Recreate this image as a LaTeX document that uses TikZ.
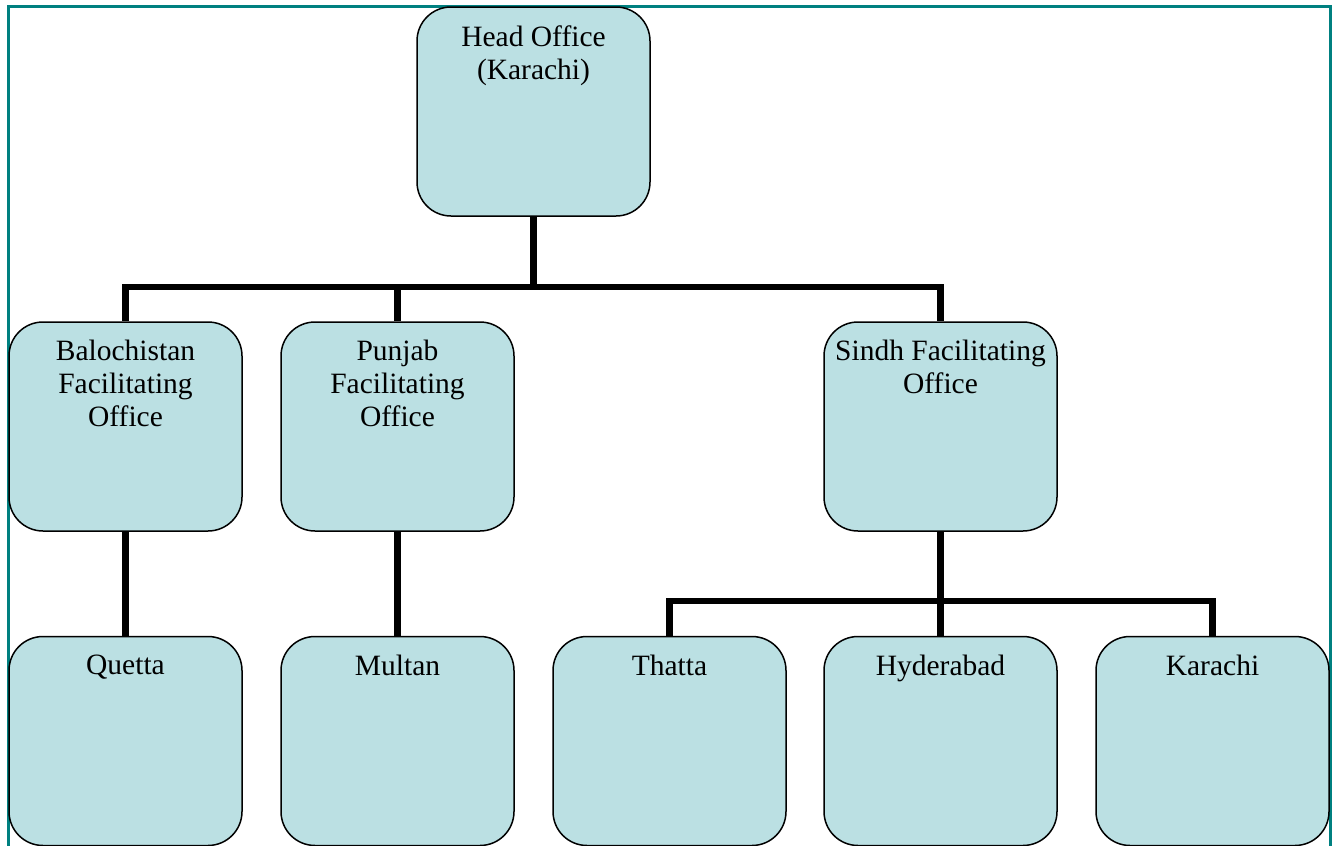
\documentclass[tikz,border=0pt]{standalone}
\usepackage{fontspec}
\setmainfont{Liberation Serif}
\definecolor{boxfill}{RGB}{187,224,227}
\definecolor{frameteal}{RGB}{0,128,128}
\begin{document}
\begin{tikzpicture}[x=1pt,y=-1pt,
  box/.style={draw=black, line width=1.5pt, fill=boxfill, rounded corners=34pt,
    minimum width=233pt, minimum height=209pt, inner sep=0pt},
  lbl/.style={anchor=north, yshift=-19pt, inner sep=0pt, align=center,
    font=\fontsize{29.5}{33}\selectfont},
  conn/.style={draw=black, line width=6.5pt}]
\clip (0,0) rectangle (1336,846);
\fill[white] (0,0) rectangle (1336,846);
\draw[frameteal, line width=3pt] (8,6) rectangle (1330,870);

\coordinate (bus1) at (533.5,287);
\coordinate (bus2) at (940.5,601);

\node[box, label={[lbl]north:Head Office\\(Karachi)}] (head) at (533.5,111.5) {};
\node[box, label={[lbl]north:Balochistan\\Facilitating\\Office}] (bal) at (125.5,426.5) {};
\node[box, label={[lbl]north:Punjab\\Facilitating\\Office}] (pun) at (397.5,426.5) {};
\node[box, label={[lbl]north:Sindh Facilitating\\Office}] (sin) at (940.5,426.5) {};
\node[box, label={[lbl]north:Quetta}] (que) at (125.5,741) {};
\node[box, label={[lbl]north:Multan}] (mul) at (397.5,741) {};
\node[box, label={[lbl]north:Thatta}] (tha) at (669.5,741) {};
\node[box, label={[lbl]north:Hyderabad}] (hyd) at (940.5,741) {};
\node[box, label={[lbl]north:Karachi}] (kar) at (1212.5,741) {};

\draw[conn] (head.south) -- (bus1);
\draw[conn] (bus1) -| (bal.north);
\draw[conn] (bus1) -| (pun.north);
\draw[conn] (bus1) -| (sin.north);
\draw[conn] (bal.south) -- (que.north);
\draw[conn] (pun.south) -- (mul.north);
\draw[conn] (sin.south) -- (bus2);
\draw[conn] (bus2) -| (tha.north);
\draw[conn] (bus2) -| (hyd.north);
\draw[conn] (bus2) -| (kar.north);
\end{tikzpicture}
\end{document}
